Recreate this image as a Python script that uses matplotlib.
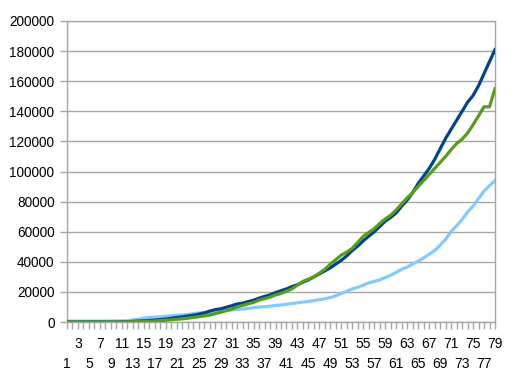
import matplotlib
matplotlib.use("Agg")
import matplotlib.pyplot as plt

days = list(range(1, 80))

series_dark_blue = [
    0, 0, 0, 0, 0, 0, 0, 0, 0, 0,
    100, 200, 400, 600, 800, 1000, 1300, 1600, 2000, 2500,
    3000, 3400, 4000, 4500, 5200, 6000, 7200, 8200, 8800, 9800,
    10800, 12000, 12500, 13500, 14500, 15800, 17000, 18000, 19500, 20800,
    22000, 23500, 24800, 26500, 28000, 30000, 32000, 34000, 36000, 38500,
    41000, 44000, 47500, 50500, 54000, 57000, 60000, 63500, 67000, 69500,
    72500, 77000, 81000, 86000, 92000, 97000, 102000, 108000, 115000, 122000,
    128000, 134000, 140000, 146000, 150500, 157000, 165000, 173000, 181000,
]

series_green = [
    0, 0, 0, 0, 0, 0, 0, 0, 0, 0,
    0, 100, 200, 300, 400, 500, 700, 900, 1200, 1500,
    1800, 2100, 2500, 3000, 3500, 4000, 4600, 5500, 6500, 7500,
    8500, 10000, 11000, 12000, 13000, 14500, 15500, 16500, 18000, 19000,
    20500, 22000, 24500, 27000, 28500, 30000, 32500, 35000, 38500, 41500,
    44500, 46500, 49000, 53000, 57000, 59500, 62000, 65500, 68500, 71000,
    74500, 78500, 82500, 86000, 90000, 94000, 98000, 102000, 106000, 110000,
    114500, 118500, 121500, 125500, 131000, 137000, 143000, 143000, 155000,
]

series_light_blue = [
    600, 600, 600, 600, 600, 600, 600, 600, 700, 700,
    700, 800, 1500, 1800, 2500, 3000, 3200, 3400, 3800, 4200,
    4500, 4700, 5000, 5500, 6000, 6300, 6600, 7000, 7300, 7700,
    8000, 8300, 8600, 9000, 9500, 10000, 10200, 10500, 11000, 11300,
    11800, 12300, 12800, 13200, 13700, 14200, 14800, 15500, 16200, 17500,
    19000, 20500, 22000, 23000, 24500, 26000, 27000, 28000, 29500, 31000,
    33000, 35000, 36500, 38500, 40500, 42500, 45000, 47500, 51000, 55000,
    60000, 64000, 68000, 73000, 77000, 82000, 87000, 90500, 94000,
]

y_ticks = [0, 20000, 40000, 60000, 80000, 100000, 120000, 140000, 160000, 180000, 200000]

plt.rcParams['font.family'] = ['Liberation Sans', 'DejaVu Sans']

fig = plt.figure(figsize=(5.31, 3.81), dpi=100)
ax = fig.add_axes([67/531, 1 - 322/381, (495 - 67)/531, (322 - 21)/381])

grid_color = '#a6a6a6'
lw = 2.3
ax.plot(days, series_light_blue, color='#83CAFF', lw=lw, zorder=3)
ax.plot(days, series_green, color='#579D1C', lw=lw, zorder=4)
ax.plot(days, series_dark_blue, color='#004586', lw=lw, zorder=3.5)

ax.set_xlim(1, 79)
ax.set_ylim(0, 200000)
ax.set_yticks(y_ticks)
ax.set_yticklabels([str(v) for v in y_ticks])
ax.yaxis.grid(True, color=grid_color, lw=1)
ax.set_axisbelow(True)

ax.set_xticks(days)
ax.set_xticklabels([''] * len(days))

for d in days:
    if d % 2 == 0:
        continue
    off = 42 if d % 4 == 1 else 22
    ax.annotate(str(d), xy=(d, 0), xycoords=('data', 'axes fraction'),
                xytext=(0, -off), textcoords='offset pixels',
                ha='center', va='center', fontsize=10, color='black',
                annotation_clip=False)

for s in ax.spines.values():
    s.set_color(grid_color)
    s.set_linewidth(1)

ax.tick_params(axis='both', colors=grid_color, labelcolor='black', labelsize=9.8, width=1)
ax.tick_params(axis='x', length=5, pad=4)
ax.tick_params(axis='y', length=5, pad=4)

fig.savefig('out.png', dpi=100)
